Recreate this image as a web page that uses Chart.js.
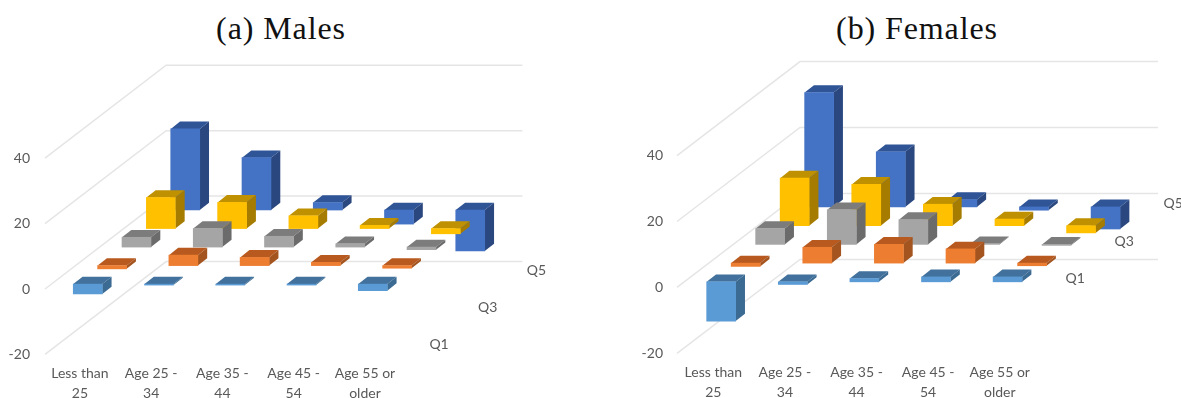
<!DOCTYPE html>
<html>
<head>
<meta charset="utf-8">
<title>Age and quintile bars</title>
<script src="https://cdn.jsdelivr.net/npm/chart.js@4"></script>
<style>
  html, body { margin: 0; padding: 0; background: #fff; }
  body { position: relative; width: 1181px; height: 398px; overflow: hidden; }
  canvas { position: absolute; top: 0; }
  #males-chart { left: 0; }
  #females-chart { left: 600px; }
  .panel-title {
    position: absolute;
    top: 9px;
    margin: 0;
    transform: translateX(-50%);
    font: normal 32px/38px "Liberation Serif", serif;
    letter-spacing: 0.9px;
    color: #111;
    white-space: nowrap;
  }
</style>
</head>
<body>
<h2 class="panel-title" style="left: 281px">(a) Males</h2>
<h2 class="panel-title" style="left: 917px">(b) Females</h2>
<canvas id="males-chart" width="590" height="398"></canvas>
<canvas id="females-chart" width="581" height="398"></canvas>
<script>
const categories = [
  ["Less than", "25"],
  ["Age 25 -", "34"],
  ["Age 35 -", "44"],
  ["Age 45 -", "54"],
  ["Age 55 or", "older"],
];
const quintiles = ["Q1", "Q2", "Q3", "Q4", "Q5"];
const depthLabels = ["Q1", "", "Q3", "", "Q5"];
const valueTicks = [-20, 0, 20, 40];

const malesQ1 = [-3, -0.3, -0.3, -0.3, -2];
const malesQ2 = [-1, 3.2, 2.5, 1, -0.8];
const malesQ3 = [3, 5.7, 3.3, 1, -0.8];
const malesQ4 = [9.5, 8, 3.9, 1, -1.6];
const malesQ5 = [24.8, 16, 2.3, -4.3, -12.5];

const femalesQ1 = [-11.9, -0.8, 1, 1.5, 1.5];
const femalesQ2 = [-1, 4.8, 5.7, 4.3, -0.8];
const femalesQ3 = [4.8, 10.5, 7.5, 0.2, -0.3];
const femalesQ4 = [14.4, 12.5, 6.5, 2, -2.2];
const femalesQ5 = [34.7, 16.7, 2.2, -1, -6.7];

// front, top and side shades per quintile
const faceColors = [
  { front: "#5b9bd5", top: "#41719c", side: "#3b6a92" },
  { front: "#ed7d31", top: "#b85a1f", side: "#a3541f" },
  { front: "#a5a5a5", top: "#7c7c7c", side: "#6b6b6b" },
  { front: "#ffc000", top: "#bf9000", side: "#a67c00" },
  { front: "#4472c4", top: "#2f5597", side: "#2a477f" },
];

const BAR_WIDTH = 29;
const DEPTH_X = 9.3;
const DEPTH_Y = 7.3;
const TEXT_COLOR = "#595959";
const TEXT_FONT = "Lato";

// Draws the top and side of each bar just before its front face goes down.
const extrudePlugin = {
  id: "extrude",
  beforeDatasetDraw(chart, args) {
    const ctx = chart.ctx;
    const colors = faceColors[args.index];
    args.meta.data.forEach((bar) => {
      const left = bar.x - bar.width / 2;
      const right = bar.x + bar.width / 2;
      const top = Math.min(bar.y, bar.base);
      const bottom = Math.max(bar.y, bar.base);

      ctx.fillStyle = colors.top;
      ctx.beginPath();
      ctx.moveTo(left, top);
      ctx.lineTo(right, top);
      ctx.lineTo(right + DEPTH_X, top - DEPTH_Y);
      ctx.lineTo(left + DEPTH_X, top - DEPTH_Y);
      ctx.closePath();
      ctx.fill();

      ctx.fillStyle = colors.side;
      ctx.beginPath();
      ctx.moveTo(right, top);
      ctx.lineTo(right + DEPTH_X, top - DEPTH_Y);
      ctx.lineTo(right + DEPTH_X, bottom - DEPTH_Y);
      ctx.lineTo(right, bottom);
      ctx.closePath();
      ctx.fill();
    });
  },
};

// Side wall and back wall grid, one bent line per value tick.
const wallGridPlugin = {
  id: "wallGrid",
  beforeDatasetsDraw(chart, args, options) {
    const { ctx, scales } = chart;
    const startX = scales.x.min;
    ctx.save();
    ctx.strokeStyle = "#e5e5e5";
    ctx.lineWidth = 1.5;
    valueTicks.forEach((value) => {
      const frontY = scales.y.getPixelForValue(value);
      const backY = scales.y.getPixelForValue(value + options.wallRise);
      ctx.beginPath();
      ctx.moveTo(scales.x.getPixelForValue(startX), frontY);
      ctx.lineTo(scales.x.getPixelForValue(startX + options.wallRun), backY);
      ctx.lineTo(
        scales.x.getPixelForValue(startX + options.wallRun + categories.length),
        backY
      );
      ctx.stroke();
    });
    ctx.restore();
  },
  afterDatasetsDraw(chart, args, options) {
    const { ctx, scales } = chart;
    ctx.save();
    ctx.fillStyle = TEXT_COLOR;
    ctx.font = `14px ${TEXT_FONT}`;
    ctx.textAlign = "center";
    ctx.textBaseline = "middle";
    depthLabels.forEach((label, row) => {
      if (!label) {
        return;
      }
      const x = scales.x.getPixelForValue(options.labelX + row * options.rowShiftX);
      const y = scales.y.getPixelForValue(options.labelY + row * options.rowShiftY);
      ctx.fillText(label, x, y);
    });
    ctx.restore();
  },
};

function buildDatasets(seriesList, panel) {
  return seriesList.map((values, row) => {
    const floor = panel.floorStart + row * panel.rowShiftY;
    return {
      label: quintiles[row],
      backgroundColor: faceColors[row].front,
      data: values.map((value, index) => ({
        x: index + row * panel.rowShiftX,
        y: [floor, floor + value],
      })),
    };
  });
}

// the axes would otherwise reserve room for half of their outer tick labels
function clearAxisPadding(axis) {
  axis.paddingLeft = 0;
  axis.paddingRight = 0;
  axis.paddingTop = 0;
  axis.paddingBottom = 0;
}

function renderPanel(canvasId, seriesList, panel) {
  return new Chart(document.getElementById(canvasId), {
    type: "bar",
    // Q1 comes first so it paints last and sits in front
    data: { datasets: buildDatasets(seriesList, panel) },
    plugins: [extrudePlugin, wallGridPlugin],
    options: {
      responsive: false,
      animation: false,
      layout: {
        padding: { top: panel.areaTop, right: panel.paddingRight, left: 0, bottom: 0 },
      },
      datasets: {
        bar: { grouped: false, barThickness: BAR_WIDTH, borderWidth: 0 },
      },
      plugins: {
        legend: { display: false },
        tooltip: { enabled: false },
        title: { display: false },
        wallGrid: {
          wallRun: panel.wallRun,
          wallRise: panel.wallRise,
          rowShiftX: panel.rowShiftX,
          rowShiftY: panel.rowShiftY,
          labelX: panel.labelX,
          labelY: panel.labelY,
        },
      },
      scales: {
        x: {
          type: "linear",
          // bar charts turn this on by default, it would squeeze the linear range
          offset: false,
          min: panel.xMin,
          max: panel.xMax,
          grid: { display: false, drawTicks: false },
          border: { display: false },
          afterBuildTicks(axis) {
            axis.ticks = categories.map((_, index) => ({ value: index - 0.11 }));
          },
          afterFit(axis) {
            axis.height = panel.axisHeight;
            clearAxisPadding(axis);
          },
          ticks: {
            autoSkip: false,
            maxRotation: 0,
            padding: 2,
            color: TEXT_COLOR,
            font: { family: TEXT_FONT, size: 14, lineHeight: 1.43 },
            callback: (value, index) => categories[index],
          },
        },
        y: {
          type: "linear",
          min: panel.yMin,
          max: panel.yMax,
          grid: { display: false, drawTicks: false },
          border: { display: false },
          afterBuildTicks(axis) {
            axis.ticks = valueTicks.map((value) => ({ value }));
          },
          afterFit(axis) {
            axis.width = panel.axisWidth;
            clearAxisPadding(axis);
          },
          ticks: {
            padding: panel.tickPadding,
            color: TEXT_COLOR,
            font: { family: TEXT_FONT, size: 14 },
          },
        },
      },
    },
  });
}

renderPanel("males-chart", [malesQ1, malesQ2, malesQ3, malesQ4, malesQ5], {
  areaTop: 60,
  paddingRight: 45,
  axisHeight: 37,
  axisWidth: 45,
  tickPadding: 15,
  xMin: -0.6,
  xMax: 6.417,
  yMin: -22,
  yMax: 70,
  floorStart: 1.5,
  rowShiftX: 0.342,
  rowShiftY: 5.66,
  wallRun: 1.7,
  wallRise: 28.4,
  labelX: 4.93,
  labelY: -17.1,
});

renderPanel("females-chart", [femalesQ1, femalesQ2, femalesQ3, femalesQ4, femalesQ5], {
  areaTop: 50,
  paddingRight: 11,
  axisHeight: 38,
  axisWidth: 77,
  tickPadding: 14,
  xMin: -0.617,
  xMax: 6.268,
  yMin: -22,
  yMax: 72,
  floorStart: 1.7,
  rowShiftX: 0.342,
  rowShiftY: 5.68,
  wallRun: 1.718,
  wallRise: 28.5,
  labelX: 4.945,
  labelY: 2.7,
});
</script>
</body>
</html>
